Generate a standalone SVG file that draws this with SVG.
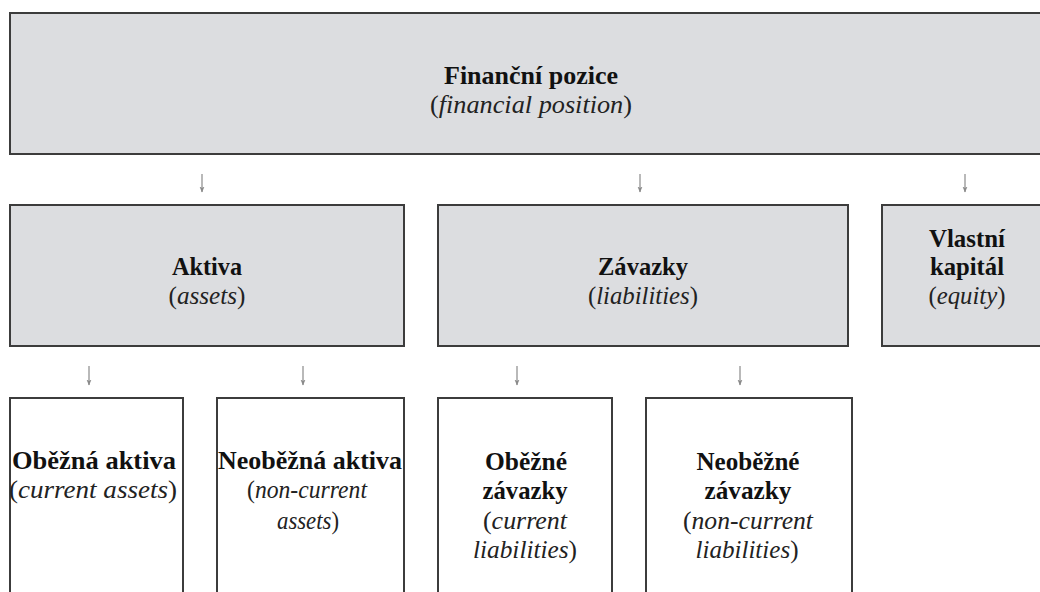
<svg xmlns="http://www.w3.org/2000/svg" width="1040" height="592" viewBox="0 0 1040 592">
<style>
.g{fill:#dcdde0;stroke:#3c3c3c;stroke-width:2}
.w{fill:#ffffff;stroke:#3c3c3c;stroke-width:2}
text{font-family:'Liberation Serif','Times New Roman','DejaVu Serif',serif;font-size:25px;text-anchor:middle}
.b{font-weight:bold;fill:#111}
.i{fill:#222}
.it{font-style:italic}
.c{stroke:#8a8a8a;stroke-width:1.2;fill:none;marker-end:url(#ah)}
</style>
<defs>
<marker id="ah" viewBox="0 0 6 6" refX="5.5" refY="3" markerWidth="6" markerHeight="6" markerUnits="userSpaceOnUse" orient="auto">
<path d="M0,0.5 L6,3 L0,5.5 L1.5,3 Z" fill="#8a8a8a"/>
</marker>
</defs>
<rect x="0" y="0" width="1040" height="592" fill="#ffffff"/>
<g id="connectors">
<line class="c" x1="202" y1="174" x2="202" y2="192"/>
<line class="c" x1="640" y1="174" x2="640" y2="192"/>
<line class="c" x1="965" y1="174" x2="965" y2="192"/>
<line class="c" x1="89" y1="366" x2="89" y2="385"/>
<line class="c" x1="303" y1="366" x2="303" y2="385"/>
<line class="c" x1="517" y1="366" x2="517" y2="385"/>
<line class="c" x1="740" y1="366" x2="740" y2="385"/>
</g>
<g id="financni-pozice">
<rect class="g" x="10" y="13" width="1042" height="141"/>
<text class="b" x="531" y="84" textLength="174" lengthAdjust="spacingAndGlyphs">Finanční pozice</text>
<text class="i" x="531" y="113" textLength="202" lengthAdjust="spacingAndGlyphs">(<tspan class="it">financial position</tspan>)</text>
</g>
<g id="aktiva">
<rect class="g" x="10" y="205" width="394" height="141"/>
<text class="b" x="207" y="275" textLength="70" lengthAdjust="spacingAndGlyphs">Aktiva</text>
<text class="i" x="207" y="303.5" textLength="77" lengthAdjust="spacingAndGlyphs">(<tspan class="it">assets</tspan>)</text>
</g>
<g id="zavazky">
<rect class="g" x="438" y="205" width="410" height="141"/>
<text class="b" x="643" y="275" textLength="90" lengthAdjust="spacingAndGlyphs">Závazky</text>
<text class="i" x="643" y="303.5" textLength="110" lengthAdjust="spacingAndGlyphs">(<tspan class="it">liabilities</tspan>)</text>
</g>
<g id="vlastni-kapital">
<rect class="g" x="882" y="205" width="170" height="141"/>
<text class="b" x="967" y="246.5" textLength="76" lengthAdjust="spacingAndGlyphs">Vlastní</text>
<text class="b" x="967" y="275" textLength="74" lengthAdjust="spacingAndGlyphs">kapitál</text>
<text class="i" x="967" y="303.5" textLength="77" lengthAdjust="spacingAndGlyphs">(<tspan class="it">equity</tspan>)</text>
</g>
<g id="obezna-aktiva">
<rect class="w" x="10" y="398" width="173" height="210"/>
<text class="b" x="94" y="468.5" textLength="164" lengthAdjust="spacingAndGlyphs">Oběžná aktiva</text>
<text class="i" x="93" y="498" textLength="168" lengthAdjust="spacingAndGlyphs">(<tspan class="it">current assets</tspan>)</text>
</g>
<g id="neobezna-aktiva">
<rect class="w" x="217" y="398" width="187" height="210"/>
<text class="b" x="310" y="468.5" textLength="184" lengthAdjust="spacingAndGlyphs">Neoběžná aktiva</text>
<text class="i" x="307" y="498" textLength="120" lengthAdjust="spacingAndGlyphs">(<tspan class="it">non-current</tspan></text>
<text class="i" x="308" y="528.5" textLength="62" lengthAdjust="spacingAndGlyphs"><tspan class="it">assets</tspan>)</text>
</g>
<g id="obezne-zavazky">
<rect class="w" x="438" y="398" width="174" height="210"/>
<text class="b" x="526" y="469.5" textLength="82" lengthAdjust="spacingAndGlyphs">Oběžné</text>
<text class="b" x="525" y="499" textLength="85" lengthAdjust="spacingAndGlyphs">závazky</text>
<text class="i" x="525" y="528.5" textLength="84" lengthAdjust="spacingAndGlyphs">(<tspan class="it">current</tspan></text>
<text class="i" x="525" y="558" textLength="104" lengthAdjust="spacingAndGlyphs"><tspan class="it">liabilities</tspan>)</text>
</g>
<g id="neobezne-zavazky">
<rect class="w" x="646" y="398" width="206" height="210"/>
<text class="b" x="748" y="469.5" textLength="103" lengthAdjust="spacingAndGlyphs">Neoběžné</text>
<text class="b" x="748" y="499" textLength="87" lengthAdjust="spacingAndGlyphs">závazky</text>
<text class="i" x="748" y="528.5" textLength="130" lengthAdjust="spacingAndGlyphs">(<tspan class="it">non-current</tspan></text>
<text class="i" x="747" y="558" textLength="103" lengthAdjust="spacingAndGlyphs"><tspan class="it">liabilities</tspan>)</text>
</g>
</svg>
